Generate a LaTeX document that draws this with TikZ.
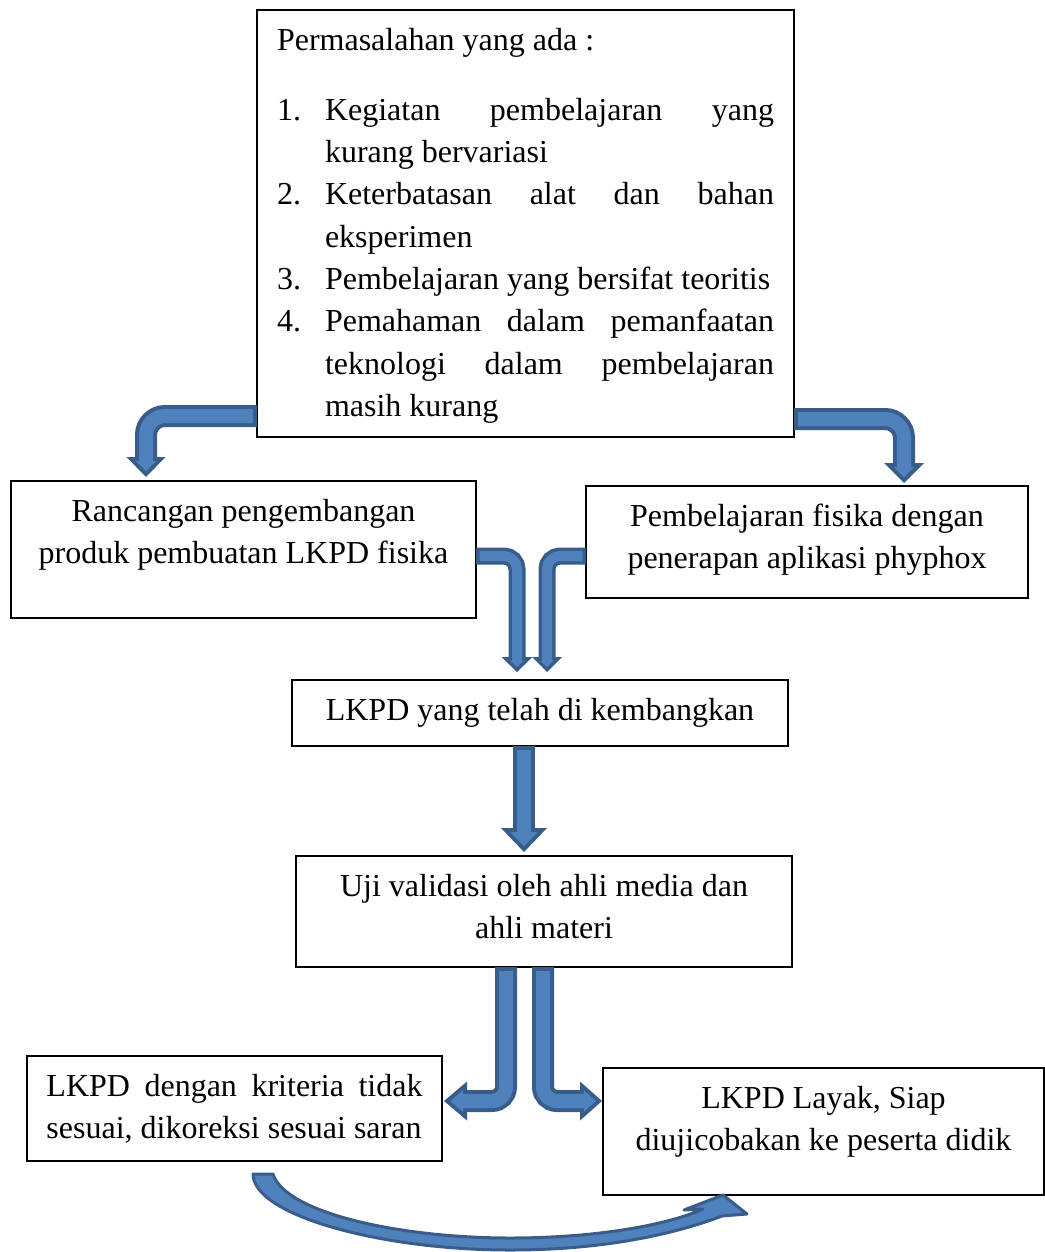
\documentclass[tikz,border=0pt]{standalone}
\usepackage{fontspec}
\setmainfont{Liberation Serif}
\usetikzlibrary{calc,positioning}
\definecolor{arrowlight}{HTML}{4F81BD}
\definecolor{arrowdark}{HTML}{385D8A}

\tikzset{
  flowbox/.style={draw=black, line width=0.6pt, inner xsep=10pt, inner ysep=0pt, outer sep=0pt,
    anchor=north west, font=\fontsize{16}{21.15}\selectfont},
  bigshaft/.style={draw=arrowdark, line width=11pt, rounded corners=9.5pt,
    postaction={draw=arrowlight, line width=7pt, shorten <=2pt}},
  thinshaft/.style={draw=arrowdark, line width=8.5pt, rounded corners=6.5pt,
    postaction={draw=arrowlight, line width=5pt, shorten <=1.75pt}},
  curvearrow/.style={fill=arrowlight, draw=arrowdark, line width=1.5pt, line join=round},
  pics/blockhead/.style args={#1/#2/#3/#4}{code={
    \pgfmathsetmacro\hdhw{#2/2}
    \pgfmathsetmacro\hdn{sqrt(\hdhw*\hdhw+#1*#1)}
    \pgfmathsetmacro\hdpy{(\hdhw*#1-#3*\hdn-\hdhw*#3)/#1}
    \pgfmathsetmacro\hdpx{#1-#3*\hdn/\hdhw}
    \filldraw[arrowdark, line width=#3pt, line join=miter] (#3,-\hdpy) -- (\hdpx,0) -- (#3,\hdpy) -- cycle;
    \fill[arrowlight] (-0.5,-#4) -- (#3,-#4) -- (#3,-\hdpy) -- (\hdpx,0) -- (#3,\hdpy) -- (#3,#4) -- (-0.5,#4) -- cycle;
  }},
}
\newcommand{\boxtext}[3]{\parbox[c][#2][t]{#1}{\rule{0pt}{20pt}#3}}
\newcommand{\itemno}[1]{\hangindent=24pt\hangafter=1\makebox[24pt][l]{#1}}

\begin{document}
\begin{tikzpicture}[x=0.5pt, y=0.5pt]
    \useasboundingbox (0,0) rectangle (1044,-1252);

    % Boxes
    \node[flowbox] (masalah) at (257,-10) {\boxtext{248.5pt}{213.5pt}{Permasalahan yang ada :\par\vspace{14pt}
      \itemno{1.}Kegiatan pembelajaran yang\linebreak kurang bervariasi\par
      \itemno{2.}Keterbatasan alat dan bahan\linebreak eksperimen\par
      \itemno{3.}Pembelajaran yang bersifat teoritis\par
      \itemno{4.}Pemahaman dalam pemanfaatan\linebreak teknologi dalam pembelajaran\linebreak masih kurang}};

    \node[flowbox] (rancangan) at (11,-481) {\boxtext{212.5pt}{68.5pt}{\centering Rancangan pengembangan\\ produk pembuatan LKPD fisika}};
    \node[flowbox] (phyphox) at (586,-486) {\boxtext{201pt}{56pt}{\centering Pembelajaran fisika dengan\\ penerapan aplikasi phyphox}};
    \node[flowbox] (lkpd) at (292,-680) {\boxtext{228pt}{33pt}{\centering LKPD yang telah di kembangkan}};
    \node[flowbox] (uji) at (296,-856) {\boxtext{228pt}{55.5pt}{\centering Uji validasi oleh ahli media dan\\ ahli materi}};
    \node[flowbox, inner xsep=9.75pt] (kriteria) at (27,-1056) {\boxtext{188pt}{52.5pt}{LKPD dengan kriteria tidak\linebreak sesuai, dikoreksi sesuai saran}};
    \node[flowbox] (layak) at (603,-1068) {\boxtext{200.5pt}{63.5pt}{\centering LKPD Layak, Siap\\ diujicobakan ke peserta didik}};

    % Block arrows
    \draw[bigshaft] ($(masalah.south west)+(0,21)$) -| ($(rancangan.north west)+(135,24)$) coordinate (hA);
    \pic[rotate=-90] at (hA) {blockhead=20/39/4/7};
    \draw[bigshaft] ($(masalah.south east)+(0,18)$) -| ($(phyphox.north west)+(318,23)$) coordinate (hB);
    \pic[rotate=-90] at (hB) {blockhead=20/40/4/7};

    \draw[thinshaft] ($(rancangan.north east)+(0,-75)$) -| ($(lkpd.north west)+(225,23)$) coordinate (hC);
    \pic[rotate=-90] at (hC) {blockhead=15/31/3.5/5};
    \draw[thinshaft] ($(phyphox.north west)+(0,-70)$) -| ($(lkpd.north west)+(255,23)$) coordinate (hD);
    \pic[rotate=-90] at (hD) {blockhead=15/30/3.5/5};

    \draw[bigshaft] ($(lkpd.south west)+(232,0)$) -- ($(uji.north west)+(228,28)$) coordinate (hE);
    \pic[rotate=-90] at (hE) {blockhead=24/46/4/7};

    \draw[bigshaft, rounded corners=7pt] ($(uji.south west)+(210,0)$) |- ($(kriteria.north east)+(25,-45)$) coordinate (hF);
    \pic[rotate=180] at (hF) {blockhead=23/39/4/7};
    \draw[bigshaft, rounded corners=7pt] ($(uji.south west)+(247,0)$) |- ($(layak.north west)+(-23,-33)$) coordinate (hG);
    \pic at (hG) {blockhead=22/39/4/7};

    % Curved arrow back to the final box
    \coordinate (tailL) at ($(kriteria.south west)+(226,-13)$);
    \coordinate (tailR) at ($(kriteria.south west)+(246,-13)$);
    \coordinate (cTip) at ($(layak.south west)+(144,-19)$);
    \path[curvearrow] (tailL) .. controls (253,-1215) and (380,-1250) .. (510,-1250)
      .. controls (610,-1250) and (680,-1232) .. (722,-1216) -- (cTip) -- (723,-1195) -- (684,-1210)
      -- (703,-1209) .. controls (670,-1224) and (600,-1238) .. (510,-1238)
      .. controls (400,-1238) and (285,-1213) .. (tailR) -- cycle;

\end{tikzpicture}
\end{document}
